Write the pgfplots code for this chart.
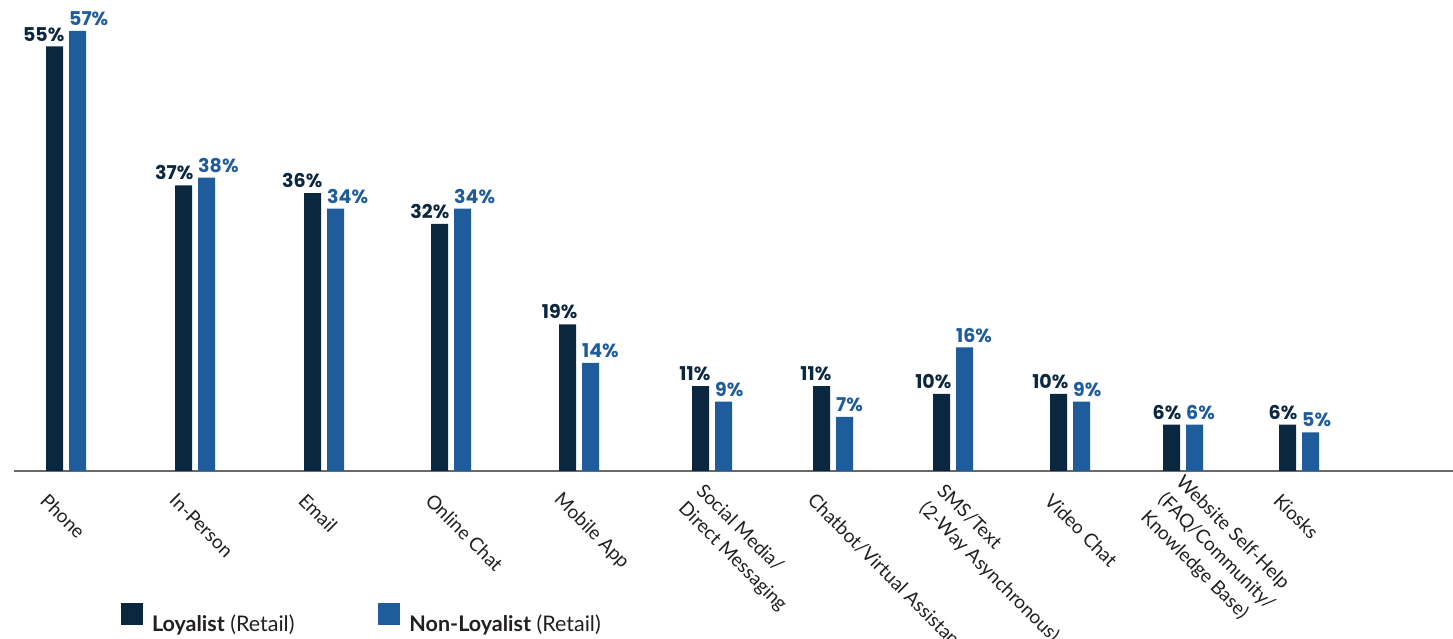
\documentclass[border=0pt]{standalone}
\usepackage{fontspec}
\setmainfont{Lato}
\newfontfamily\valfont{Poppins}
\usepackage{pgfplots}
\pgfplotsset{compat=1.18}
\definecolor{loyal}{RGB}{11,39,64}
\definecolor{nonloyal}{RGB}{31,92,155}
\definecolor{txt}{RGB}{35,31,32}
\definecolor{axisgray}{RGB}{105,105,105}
\begin{document}
\begin{tikzpicture}
\useasboundingbox (0,0) rectangle (1453pt,639pt);
\begin{axis}[
  at={(14pt,168pt)}, anchor=south west,
  scale only axis, width=1439pt, height=440pt,
  xmin=14, xmax=1453, ymin=0, ymax=57,
  axis x line=bottom, axis y line=none,
  x axis line style={-, draw=axisgray, line width=2pt},
  ytick=\empty,
  xtick={44,173,302,429,557,690,811,931,1048,1161,1277},
  xticklabels={Phone, In-Person, Email, Online Chat, Mobile App, {Social Media/\\Direct Messaging}, Chatbot/Virtual Assistant, {SMS/Text\\(2-Way Asynchronous)}, Video Chat, {Website Self-Help\\(FAQ/Community/\\Knowledge Base)}, Kiosks},
  major tick length=0pt, xtick style={draw=none},
  xticklabel style={rotate=-45, anchor=west, align=left, inner sep=0pt, font=\fontsize{19}{25}\selectfont, text=txt},
  xticklabel shift=26pt,
  ybar=6pt, bar width=17pt,
  clip=false,
  nodes near coords={\pgfmathprintnumber{\pgfplotspointmeta}\%},
  nodes near coords style={font=\valfont\fontsize{19}{22}\selectfont\bfseries, inner sep=0pt},
  /pgf/number format/assume math mode=true,
  legend style={at={(axis cs:121,-19.0)}, anchor=west, draw=none, fill=none, inner sep=0pt, outer sep=0pt,
    font=\fontsize{21.5}{24}\selectfont, text=txt,
    nodes={inner sep=0pt},
    /tikz/every odd column/.append style={column sep=9pt},
    /tikz/every even column/.append style={column sep=84pt}},
  legend columns=2,
  legend image code/.code={\fill[#1] (0pt,-1pt) rectangle (22pt,21pt);},
]
\addplot[fill=loyal, draw=none, every node near coord/.append style={anchor=south east, xshift=10pt, yshift=5pt, text=loyal}]
  coordinates {(66,55) (195,37) (324,36) (451,32) (579,19) (712,11) (833,11) (953,10) (1070,10) (1183,6) (1299,6)};
\addplot[fill=nonloyal, draw=none, every node near coord/.append style={anchor=south west, xshift=-8.5pt, yshift=5pt, text=nonloyal}]
  coordinates {(66,57) (195,38) (324,34) (451,34) (579,14) (712,9) (833,7) (953,16) (1070,9) (1183,6) (1299,5)};
\legend{\textbf{Loyalist} (Retail), \textbf{Non-Loyalist} (Retail)}
\end{axis}
\end{tikzpicture}
\end{document}
